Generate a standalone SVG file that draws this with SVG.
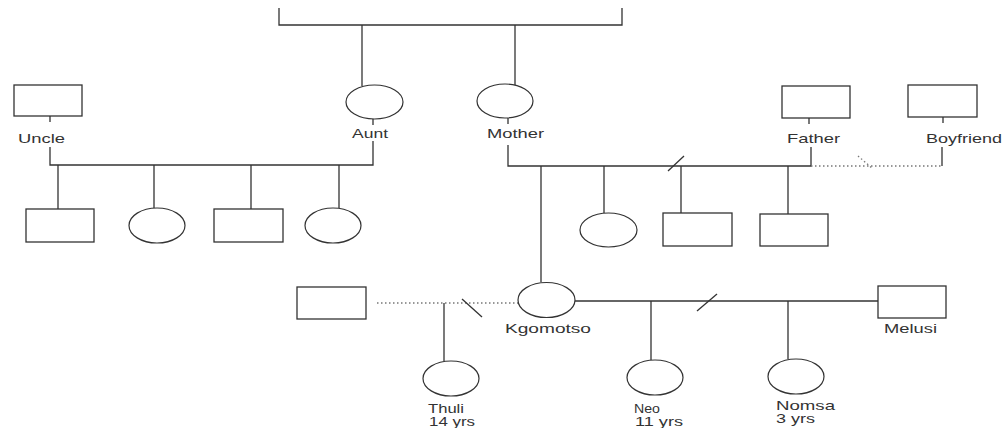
<svg xmlns="http://www.w3.org/2000/svg" width="1005" height="428" viewBox="0 0 1005 428">
  <style>
    .ln { fill: none; stroke: #333; stroke-width: 1.3; }
    .dot { fill: none; stroke: #777; stroke-width: 1.3; stroke-dasharray: 1.5 2.5; }
    .m { fill: #fff; stroke: #333; stroke-width: 1.3; }
    .f { fill: #fff; stroke: #333; stroke-width: 1.2; }
    text { font-family: "Liberation Sans", Arial, sans-serif; font-size: 13px; fill: #333; }
  </style>
  <rect width="1005" height="428" fill="#fff"/>

  <!-- connectors -->
  <g id="connectors">
    <!-- grandparents' sibship -->
    <path class="ln" d="M279,8 V25 H622 V8"/>
    <path class="ln" d="M362,25 V86"/>
    <path class="ln" d="M515,25 V85"/>
    <!-- uncle + aunt -->
    <path class="ln" d="M50,116 V122 M50,147 V165 H373 V141 M373,119 V125"/>
    <path class="ln" d="M58,165 V209 M154,165 V208 M251,165 V209 M339,165 V208"/>
    <!-- mother + father -->
    <path class="ln" d="M508,118 V124 M508,145 V166 H811 V147 M809,118 V124"/>
    <path class="ln" d="M668,171 L684,156"/>
    <path class="ln" d="M541,166 V282 M604,166 V213 M681,166 V213 M788,166 V214"/>
    <!-- mother + boyfriend -->
    <path class="dot" d="M811,166 H942"/>
    <path class="ln" d="M942,147 V166 M943,117 V123"/>
    <path class="dot" d="M858,156 L873,169"/>
    <!-- kgomotso + first partner -->
    <path class="dot" d="M377,303 H518"/>
    <path class="ln" d="M462,299 L482,317"/>
    <path class="ln" d="M444,303 V361"/>
    <!-- kgomotso + melusi -->
    <path class="ln" d="M575,301 H878"/>
    <path class="ln" d="M697,311 L717,294"/>
    <path class="ln" d="M651,301 V360 M788,301 V359"/>
  </g>

  <!-- first generation children -->
  <g id="aunt">
    <ellipse class="f" cx="374.5" cy="102" rx="28.5" ry="17"/>
    <text x="352" y="138" textLength="36" lengthAdjust="spacingAndGlyphs">Aunt</text>
  </g>
  <g id="mother">
    <ellipse class="f" cx="505" cy="101" rx="28" ry="17"/>
    <text x="487" y="138" textLength="57" lengthAdjust="spacingAndGlyphs">Mother</text>
  </g>

  <!-- partners -->
  <g id="uncle">
    <rect class="m" x="14" y="85" width="68" height="31"/>
    <text x="18" y="143" textLength="47" lengthAdjust="spacingAndGlyphs">Uncle</text>
  </g>
  <g id="father">
    <rect class="m" x="782" y="86" width="68" height="32"/>
    <text x="787" y="143" textLength="53" lengthAdjust="spacingAndGlyphs">Father</text>
  </g>
  <g id="boyfriend">
    <rect class="m" x="908" y="85" width="69" height="32"/>
    <text x="926" y="143" textLength="76" lengthAdjust="spacingAndGlyphs">Boyfriend</text>
  </g>

  <!-- cousins -->
  <g id="cousin-1"><rect class="m" x="26" y="209" width="68" height="33"/></g>
  <g id="cousin-2"><ellipse class="f" cx="157" cy="225.5" rx="28" ry="17.5"/></g>
  <g id="cousin-3"><rect class="m" x="214" y="209" width="69" height="33"/></g>
  <g id="cousin-4"><ellipse class="f" cx="333" cy="225.5" rx="28" ry="17.5"/></g>

  <!-- siblings -->
  <g id="sister"><ellipse class="f" cx="608.5" cy="230" rx="28.5" ry="17"/></g>
  <g id="brother-1"><rect class="m" x="663" y="213" width="69" height="33"/></g>
  <g id="brother-2"><rect class="m" x="760" y="214" width="68" height="32"/></g>

  <!-- kgomotso and partners -->
  <g id="kgomotso">
    <ellipse class="f" cx="546.5" cy="300" rx="28.5" ry="17.5"/>
    <text x="505" y="333" textLength="86" lengthAdjust="spacingAndGlyphs">Kgomotso</text>
  </g>
  <g id="partner-1"><rect class="m" x="297" y="287" width="69" height="32"/></g>
  <g id="melusi">
    <rect class="m" x="878" y="286" width="68" height="32"/>
    <text x="884" y="333" textLength="53" lengthAdjust="spacingAndGlyphs">Melusi</text>
  </g>

  <!-- children -->
  <g id="thuli">
    <ellipse class="f" cx="451" cy="378.5" rx="28" ry="17.5"/>
    <text x="428" y="413" textLength="36" lengthAdjust="spacingAndGlyphs">Thuli</text>
    <text x="429" y="426" textLength="46" lengthAdjust="spacingAndGlyphs">14 yrs</text>
  </g>
  <g id="neo">
    <ellipse class="f" cx="655" cy="377.5" rx="28" ry="17.5"/>
    <text x="634" y="413" textLength="26" lengthAdjust="spacingAndGlyphs">Neo</text>
    <text x="635" y="426" textLength="48" lengthAdjust="spacingAndGlyphs">11 yrs</text>
  </g>
  <g id="nomsa">
    <ellipse class="f" cx="796" cy="376.5" rx="28" ry="17.5"/>
    <text x="776" y="410" textLength="59" lengthAdjust="spacingAndGlyphs">Nomsa</text>
    <text x="776" y="423" textLength="39" lengthAdjust="spacingAndGlyphs">3 yrs</text>
  </g>
</svg>
